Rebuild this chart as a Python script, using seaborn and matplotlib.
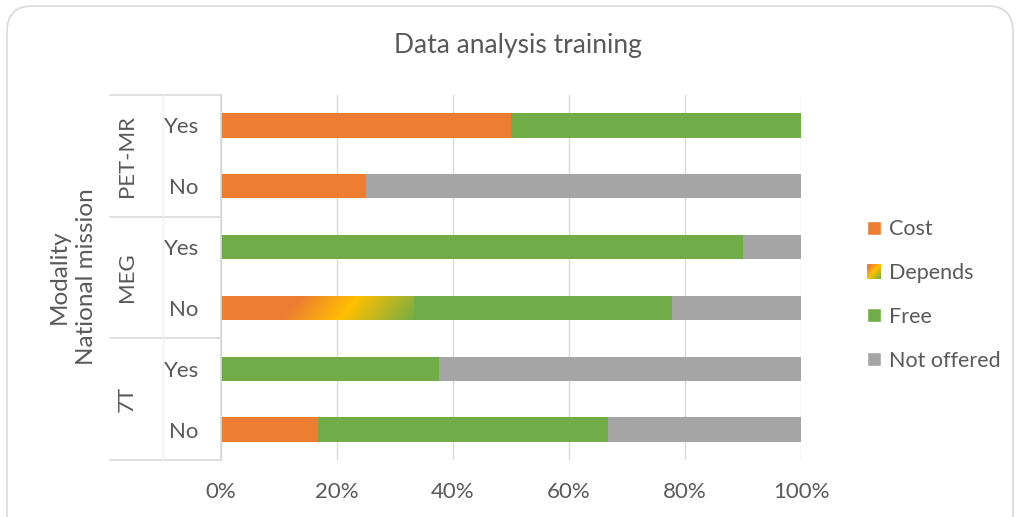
"""Data analysis training: stacked horizontal bars by modality and national mission."""

import matplotlib

matplotlib.use("Agg")

import matplotlib.pyplot as plt
import matplotlib.transforms as mtransforms
import numpy as np
import pandas as pd
import seaborn as sns
from matplotlib.colors import LinearSegmentedColormap, Normalize
from matplotlib.image import BboxImage
from matplotlib.legend_handler import HandlerBase
from matplotlib.patches import FancyBboxPatch, Patch
from matplotlib.transforms import Bbox, TransformedBbox

# ---- data (percent of respondents) ----
modality = ["PET-MR", "PET-MR", "MEG", "MEG", "7T", "7T"]
mission = ["Yes", "No", "Yes", "No", "Yes", "No"]
cost = [50.0, 25.0, 0.0, 11.1, 0.0, 16.7]
depends = [0.0, 0.0, 0.0, 22.2, 0.0, 0.0]
free = [50.0, 0.0, 90.0, 44.4, 37.5, 50.0]
not_offered = [0.0, 75.0, 10.0, 22.3, 62.5, 33.3]

categories = ["Cost", "Depends", "Free", "Not offered"]
colors = {"Cost": "#ED7D31", "Free": "#70AD47", "Not offered": "#A5A5A5"}
TEXT = "#595959"
LINE = "#D9D9D9"
FS = 16

grad_cmap = LinearSegmentedColormap.from_list(
    "depends",
    [(0.0, "#ED7D31"), (0.12, "#ED7D31"), (0.5, "#FFC000"), (1.0, "#70AD47")],
)

sns.set_theme(style="white")
plt.rcParams["font.family"] = ["Lato", "DejaVu Sans"]

rows = [f"{m}|{n}" for m, n in zip(modality, mission)]
df = pd.DataFrame(
    {
        "row": rows,
        "Cost": cost,
        "Depends": depends,
        "Free": free,
        "Not offered": not_offered,
    }
)
cum = df[categories].cumsum(axis=1)


class GradientPatch(Patch):
    pass


class HandlerGradient(HandlerBase):
    def create_artists(self, legend, orig_handle, xdescent, ydescent,
                       width, height, fontsize, trans):
        bb = Bbox.from_bounds(-xdescent, -ydescent, width, height)
        img = BboxImage(TransformedBbox(bb, trans), cmap=grad_cmap,
                        norm=Normalize(0, 1), interpolation="bilinear",
                        origin="upper")
        gx, gy = np.meshgrid(np.linspace(0, 1, 30), np.linspace(0, 1, 30))
        img.set_data((gx + gy) / 2)
        return [img]


fig = plt.figure(figsize=(10.19, 5.17), dpi=100)
ax = fig.add_axes([221 / 1019, 1 - 460 / 517, 580 / 1019, 365 / 517])

# draw cumulative layers from the widest to the narrowest
for cat in reversed(categories):
    plot_df = pd.DataFrame({"row": rows, "end": cum[cat]})
    sns.barplot(data=plot_df, x="end", y="row", order=rows, orient="h",
                color=colors.get(cat, "#ED7D31"), saturation=1, width=0.4,
                errorbar=None, linewidth=0, ax=ax, zorder=2)
    if cat == "Depends":
        for i, bar in enumerate(ax.containers[-1]):
            bar.set_alpha(0)
            if depends[i] <= 0:
                continue
            x0 = cost[i]
            x1 = cost[i] + depends[i]
            y0 = bar.get_y()
            y1 = y0 + bar.get_height()
            gx, gy = np.meshgrid(np.linspace(0, 130, 260), np.linspace(0, 24, 48))
            grad = (gx + gy) / 154
            img = ax.imshow(grad, cmap=grad_cmap, norm=Normalize(0, 1),
                            extent=(x0, x1, y1 + 0.05, y0 - 0.05),
                            origin="upper", aspect="auto",
                            interpolation="nearest", zorder=2.5)
            img.set_clip_path(bar)

ax.set_xlim(0, 100)
ax.set_ylim(len(rows) - 0.5, -0.5)
ax.set_xticks(range(0, 101, 20))
ax.set_xticklabels([f"{v}%" for v in range(0, 101, 20)])
ax.set_yticks(range(len(rows)))
ax.set_yticklabels(mission)
ax.set_xlabel("")
ax.set_ylabel("")
ax.tick_params(axis="x", length=0, pad=16, labelsize=FS, labelcolor=TEXT)
ax.tick_params(axis="y", length=0, pad=16, labelsize=FS, labelcolor=TEXT)
ax.xaxis.grid(True, color=LINE, linewidth=1, zorder=0)
ax.set_axisbelow(True)
for side in ["top", "right", "bottom"]:
    ax.spines[side].set_visible(False)
ax.spines["left"].set_color(LINE)
ax.spines["left"].set_linewidth(1.2)
ax.spines["left"].set_zorder(3)

# multi-level category axis
blend = mtransforms.blended_transform_factory(ax.transAxes, ax.transData)
groups = ["PET-MR", "MEG", "7T"]
for g_i, g in enumerate(groups):
    ax.text(-0.162, 2 * g_i + 0.5, g, rotation=90, ha="center", va="center",
            fontsize=FS, color=TEXT, transform=blend)
for yb in [-0.5, 1.5, 3.5, 5.5]:
    ax.plot([-0.191, 0], [yb, yb], color=LINE, linewidth=1.2,
            transform=blend, clip_on=False)
ax.plot([-0.1, -0.1], [-0.5, 5.5], color="#EEEEEE", linewidth=1,
        transform=blend, clip_on=False)

fig.text(73 / 1019, 1 - 277 / 517, "Modality\nNational mission", rotation=90,
         ha="center", va="center", multialignment="center", fontsize=17.5,
         color=TEXT, linespacing=1.35)
fig.text(0.508, 1 - 46 / 517, "Data analysis training", ha="center",
         va="center", fontsize=19, color=TEXT)

handles = [
    Patch(facecolor=colors["Cost"]),
    GradientPatch(facecolor=colors["Cost"]),
    Patch(facecolor=colors["Free"]),
    Patch(facecolor=colors["Not offered"]),
]
leg = fig.legend(handles, categories, loc="center left",
                 bbox_to_anchor=(848 / 1019, 1 - 295 / 517), frameon=False,
                 handlelength=0.65, handleheight=0.65, handletextpad=0.35,
                 labelspacing=1.1, fontsize=15.5,
                 handler_map={GradientPatch: HandlerGradient()})
for t in leg.get_texts():
    t.set_color(TEXT)

border = FancyBboxPatch((7 / 1019, -0.05), 1006 / 1019, 1.05 - 6 / 517,
                        boxstyle="round,pad=0,rounding_size=0.025",
                        transform=fig.transFigure, facecolor="none",
                        edgecolor=LINE, linewidth=1.2,
                        mutation_aspect=1019 / 517)
fig.patches.append(border)

fig.savefig("out.png", dpi=100)
